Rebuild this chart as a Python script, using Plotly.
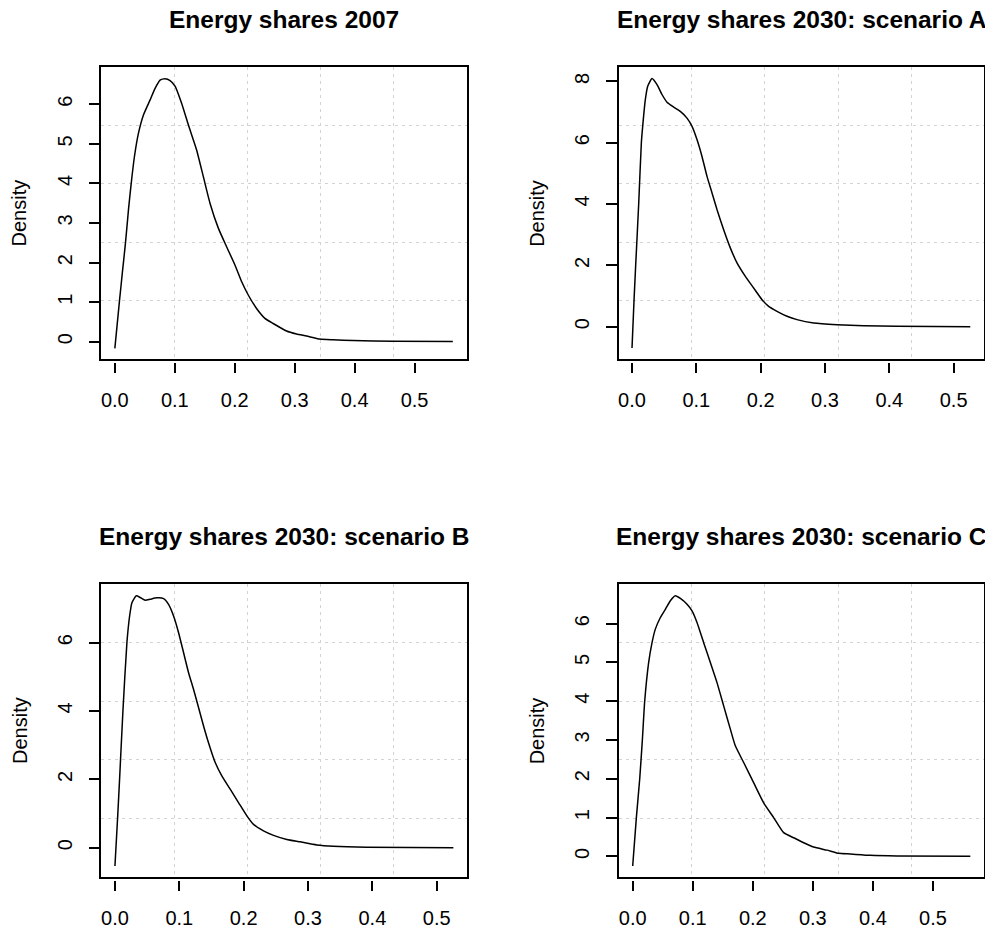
import plotly.graph_objects as go

# ---------------- data ----------------
titles = ["Energy shares 2007", "Energy shares 2030: scenario A",
          "Energy shares 2030: scenario B", "Energy shares 2030: scenario C"]

x_2007 = [0.000, 0.0077, 0.0127, 0.0177, 0.0227, 0.0272, 0.0327, 0.0394, 0.0477, 0.0588,
          0.0671, 0.0754, 0.0838, 0.0921, 0.1004, 0.1115, 0.1226, 0.1365, 0.1476, 0.1587,
          0.1726, 0.1864, 0.2003, 0.2114, 0.2225, 0.2364, 0.2503, 0.2641, 0.2864, 0.303,
          0.3197, 0.3418, 0.364, 0.3973, 0.4639, 0.5638]
y_2007 = [-0.17, 1.03, 1.77, 2.49, 3.33, 3.99, 4.68, 5.27, 5.73, 6.11,
          6.40, 6.61, 6.645, 6.60, 6.46, 6.02, 5.48, 4.84, 4.17, 3.50,
          2.87, 2.40, 1.94, 1.52, 1.18, 0.84, 0.59, 0.46, 0.27, 0.195,
          0.144, 0.068, 0.05, 0.03, 0.01, 0.005]

x_A = [0.0, 0.0031, 0.0057, 0.0104, 0.0145, 0.0166, 0.0207, 0.0244, 0.0311, 0.0389,
       0.0466, 0.0544, 0.0648, 0.0751, 0.0855, 0.0933, 0.101, 0.1088, 0.1166, 0.1244,
       0.1321, 0.1425, 0.1528, 0.1632, 0.1762, 0.1891, 0.2021, 0.2124, 0.2254, 0.2409,
       0.2565, 0.2824, 0.3187, 0.3601, 0.4119, 0.5259]
y_A = [-0.696, 0.848, 2.0, 4.01, 5.99, 6.53, 7.40, 7.84, 8.09, 7.89,
       7.57, 7.32, 7.16, 7.02, 6.80, 6.53, 6.10, 5.55, 4.90, 4.36,
       3.82, 3.16, 2.57, 2.08, 1.64, 1.26, 0.88, 0.66, 0.50, 0.34,
       0.23, 0.12, 0.065, 0.033, 0.011, 0.0]

x_B = [0.0, 0.0041, 0.0072, 0.0124, 0.0186, 0.0228, 0.0264, 0.0331, 0.0393, 0.0471,
       0.0549, 0.0652, 0.0756, 0.0833, 0.0911, 0.0989, 0.1066, 0.1144, 0.1222, 0.1299,
       0.1377, 0.1454, 0.1558, 0.1661, 0.1791, 0.192, 0.205, 0.2153, 0.2308, 0.2464,
       0.2671, 0.2878, 0.3137, 0.3395, 0.3913, 0.5259]
y_B = [-0.537, 0.859, 2.0, 4.0, 6.0, 6.78, 7.17, 7.37, 7.32, 7.24,
       7.27, 7.31, 7.29, 7.12, 6.78, 6.29, 5.71, 5.12, 4.63, 4.10,
       3.56, 3.07, 2.49, 2.10, 1.71, 1.32, 0.93, 0.68, 0.49, 0.36,
       0.24, 0.17, 0.08, 0.04, 0.01, 0.0]

x_C = [0.0, 0.0061, 0.0117, 0.0161, 0.02, 0.0266, 0.0322, 0.0377, 0.0461, 0.0544,
       0.0627, 0.071, 0.0794, 0.0905, 0.0988, 0.1071, 0.1182, 0.1293, 0.1404, 0.1515,
       0.1626, 0.1709, 0.1848, 0.2014, 0.2181, 0.2347, 0.2514, 0.268, 0.2847, 0.3013,
       0.3235, 0.343, 0.3624, 0.3957, 0.4401, 0.5622]
y_C = [-0.249, 0.997, 2.0, 3.0, 4.0, 5.0, 5.51, 5.86, 6.16, 6.37,
       6.59, 6.72, 6.65, 6.50, 6.33, 6.03, 5.51, 5.0, 4.48, 3.88,
       3.28, 2.85, 2.42, 1.90, 1.38, 1.0, 0.61, 0.48, 0.35, 0.24,
       0.16, 0.077, 0.06, 0.026, 0.009, 0.0]

xs = [x_2007, x_A, x_B, x_C]
ys = [y_2007, y_A, y_B, y_C]

x_ticks = [0.0, 0.1, 0.2, 0.3, 0.4, 0.5]
y_ticks = [[0, 1, 2, 3, 4, 5, 6], [0, 2, 4, 6, 8], [0, 2, 4, 6], [0, 1, 2, 3, 4, 5, 6]]
y_label = "Density"

# ---------------- layout geometry ----------------
PAGE_MARGIN = 8  # default body margin of the html page
W, H = 993 - PAGE_MARGIN, 932 - PAGE_MARGIN
x_ranges = [[-0.0226, 0.5869], [-0.0207, 0.5477], [-0.0212, 0.5466], [-0.0233, 0.5855]]
y_ranges = [[-0.437, 6.934], [-1.054, 8.457], [-0.859, 7.707], [-0.533, 7.016]]

box_px = [  # left, right, top, bottom in screen pixels
    (101.3, 466.7, 67.3, 359.0),
    (618.7, 984.3, 67.3, 359.0),
    (101.3, 466.7, 584.3, 877.0),
    (618.7, 984.3, 584.3, 877.0),
]

FONT = "Liberation Sans, Arial, Helvetica, sans-serif"
TICK_SIZE = 20
TITLE_SIZE = 24.5
GRID_COL = "#d3d3d3"
TICK_GAP = 2.7


def px_x(p):
    return (p - PAGE_MARGIN) / W


def px_y(p):
    return 1 - (p - PAGE_MARGIN) / H


fig = go.Figure()
layout = dict(
    width=W, height=H, margin=dict(l=0, r=0, t=0, b=0),
    paper_bgcolor="white", plot_bgcolor="rgba(0,0,0,0)", showlegend=False,
    font=dict(family=FONT, color="black", size=TICK_SIZE),
)
annotations = []

for i in range(4):
    n = i + 1
    no = i + 5
    L, R, T, B = box_px[i]
    xd = [px_x(L), px_x(R)]
    yd = [px_y(B), px_y(T)]
    yd_shift = [px_y(B + TICK_GAP), px_y(T + TICK_GAP)]
    xr, yr = x_ranges[i], y_ranges[i]
    xgrid = [xr[0] + k * (xr[1] - xr[0]) / 5 for k in range(1, 5)]
    ygrid = [yr[0] + k * (yr[1] - yr[0]) / 5 for k in range(1, 5)]

    # main axes: box + dotted grid (grid at 5 equal divisions)
    layout[f"xaxis{n}"] = dict(
        domain=xd, range=xr, anchor=f"y{n}", showline=True, mirror=True,
        linecolor="black", linewidth=1.5, showgrid=False, zeroline=False,
        ticks="", showticklabels=False, fixedrange=True,
        minor=dict(tickvals=xgrid, showgrid=True, gridcolor=GRID_COL,
                   griddash="3px,4px", gridwidth=1.3, ticks=""),
    )
    layout[f"yaxis{n}"] = dict(
        domain=yd, range=yr, anchor=f"x{n}", showline=True, mirror=True,
        linecolor="black", linewidth=1.5, showgrid=False, zeroline=False,
        tickmode="array", tickvals=y_ticks[i], ticks="outside", ticklen=11,
        tickwidth=1.5, tickcolor="black", tickangle=-90, ticklabelstandoff=9,
        tickfont=dict(family=FONT, size=TICK_SIZE, color="black"), fixedrange=True,
        minor=dict(tickvals=ygrid, showgrid=True, gridcolor=GRID_COL,
                   griddash="3px,4px", gridwidth=1.3, ticks=""),
    )
    # separate x axis carrying the tick marks, sitting slightly below the box
    layout[f"xaxis{no}"] = dict(
        domain=xd, range=xr, anchor=f"y{no}", showline=False, showgrid=False,
        zeroline=False, tickmode="array", tickvals=x_ticks, tickformat=".1f",
        ticks="outside", ticklen=10, tickwidth=1.5, tickcolor="black",
        ticklabelstandoff=10,
        tickfont=dict(family=FONT, size=TICK_SIZE, color="black"), fixedrange=True,
    )
    layout[f"yaxis{no}"] = dict(
        domain=yd_shift, range=yr, anchor=f"x{no}", visible=False, fixedrange=True,
    )

    fig.add_trace(go.Scatter(
        x=xs[i], y=ys[i], mode="lines", xaxis=f"x{n}", yaxis=f"y{n}",
        line=dict(color="black", width=1.5, shape="spline", smoothing=0.5),
        hoverinfo="skip",
    ))
    fig.add_trace(go.Scatter(x=[], y=[], mode="lines", xaxis=f"x{no}", yaxis=f"y{no}",
                             hoverinfo="skip"))

    # title
    annotations.append(dict(
        text=f"<b>{titles[i]}</b>", x=px_x((L + R) / 2), y=px_y(T - 48),
        xref="paper", yref="paper", xanchor="center", yanchor="middle",
        showarrow=False, font=dict(family=FONT, size=TITLE_SIZE, color="black"),
    ))
    # y label
    annotations.append(dict(
        text=y_label, x=px_x(L - 82), y=px_y((T + B) / 2),
        xref="paper", yref="paper", xanchor="center", yanchor="middle",
        textangle=-90, showarrow=False,
        font=dict(family=FONT, size=TICK_SIZE, color="black"),
    ))

layout["annotations"] = annotations
fig.update_layout(**layout)
fig.write_html("out.html")
